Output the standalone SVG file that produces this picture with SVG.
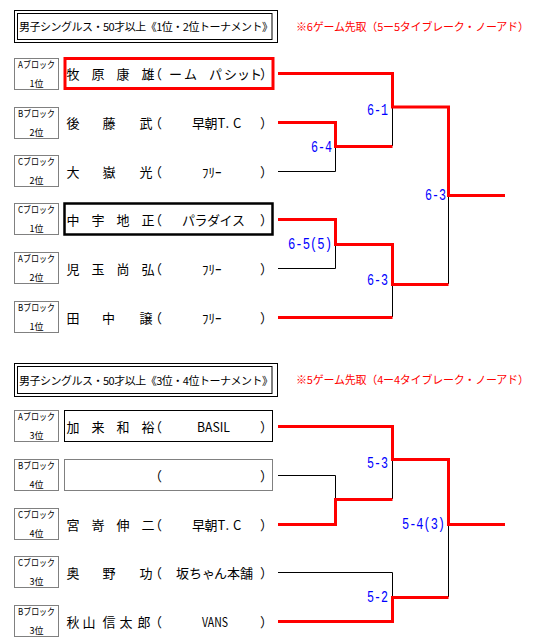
<svg xmlns="http://www.w3.org/2000/svg" width="545" height="644" viewBox="0 0 545 644">
<style>
text{font-family:"Noto Sans CJK JP","Noto Sans CJK SC",sans-serif;fill:#000}
.tb{fill:none;stroke:#000;stroke-width:1}
.lb{fill:none;stroke:#000;stroke-width:1;stroke-dasharray:1 1}
.lt{font-size:9px;text-anchor:middle}
.nm{font-size:13px}
.ttl{font-size:11px;letter-spacing:-0.5px}
.note{font-size:11px;letter-spacing:-0.2px;fill:#f00}
.sc{font-family:"Liberation Mono",monospace;font-size:16px;fill:#00f}
.red{fill:none;stroke:#f00;stroke-width:3}
.blk{fill:none;stroke:#000;stroke-width:1}
</style>
<rect width="545" height="644" fill="#fff"/>

<g id="title1">
<rect class="tb" x="14.5" y="10.5" width="263" height="32"/>
<rect class="tb" x="17.5" y="13.5" width="254.5" height="26"/>
<text class="ttl" x="19" y="31">男子シングルス・50才以上《1位・2位トーナメント》</text>
</g>
<text id="note1" class="note" x="296" y="31">※6ゲーム先取（5ー5タイブレーク・ノーアド）</text>

<g id="title2">
<rect class="tb" x="14.5" y="363.5" width="263" height="33"/>
<rect class="tb" x="17.5" y="366.5" width="254.5" height="27"/>
<text class="ttl" x="19" y="385">男子シングルス・50才以上《3位・4位トーナメント》</text>
</g>
<text id="note2" class="note" x="296" y="384">※5ゲーム先取（4ー4タイブレーク・ノーアド）</text>

<g id="connectors">
<path class="blk" d="M392.5,107 V146 M278,171.5 H335.5 V146 M278,268.5 H335.5 V244 M448.5,195 V284 M392.5,284 V317"/>
<path class="red" d="M278,73.5 H392.5 V107 H448.5 V195.5 H505"/>
<path class="red" d="M278,122.5 H335.5 V146.5 H392.5"/>
<path class="red" d="M278,219.5 H335.5 V244.5 H392.5 V284.5 H448.5"/>
<path class="red" d="M278,317.5 H392.5"/>
<path class="blk" d="M278,475.5 H335.5 V499 M392.5,459 V499 M278,572.5 H392.5 V597 M448.5,524 V597"/>
<path class="red" d="M278,426.5 H392.5 V459.5 H448.5 V524.5 H505"/>
<path class="red" d="M278,524.5 H335.5 V499.5 H392.5"/>
<path class="red" d="M278,621.5 H392.5 V597.5 H448.5"/>
</g>

<g id="scores">
<text class="sc" x="367" y="115" textLength="21" lengthAdjust="spacingAndGlyphs">6-1</text>
<text class="sc" x="311" y="152" textLength="21" lengthAdjust="spacingAndGlyphs">6-4</text>
<text class="sc" x="425" y="200" textLength="21" lengthAdjust="spacingAndGlyphs">6-3</text>
<text class="sc" x="288" y="249" textLength="44" lengthAdjust="spacingAndGlyphs">6-5(5)</text>
<text class="sc" x="367" y="285" textLength="21" lengthAdjust="spacingAndGlyphs">6-3</text>
<text class="sc" x="367" y="468" textLength="21" lengthAdjust="spacingAndGlyphs">5-3</text>
<text class="sc" x="402" y="529" textLength="43" lengthAdjust="spacingAndGlyphs">5-4(3)</text>
<text class="sc" x="367" y="602" textLength="21" lengthAdjust="spacingAndGlyphs">5-2</text>
</g>

<g id="p1">
<rect class="lb" x="14.5" y="58.5" width="44" height="31"/>
<text class="lt" x="36.5" y="68" textLength="37" lengthAdjust="spacingAndGlyphs">Aブロック</text>
<text class="lt" x="36.5" y="87">1位</text>
<rect x="65" y="58.5" width="208" height="30" fill="none" stroke="#f00" stroke-width="3"/>
<text class="nm" x="66.5 91.5 116.5 141.5 149 169 184 209 224 237 249 260" y="79">牧原康雄（ームパシット）</text>
</g>

<g id="p2">
<rect class="lb" x="14.5" y="107.5" width="44" height="31"/>
<text class="lt" x="36.5" y="117" textLength="37" lengthAdjust="spacingAndGlyphs">Bブロック</text>
<text class="lt" x="36.5" y="136">2位</text>
<text class="nm" x="66.5 102.5 139.5 149" y="128">後藤武（</text>
<text class="nm" x="192 204.5 217.5 225.5 233" y="128">早朝T.C</text>
<text class="nm" x="260" y="128">）</text>
</g>

<g id="p3">
<rect class="lb" x="14.5" y="155.5" width="44" height="31"/>
<text class="lt" x="36.5" y="165" textLength="37" lengthAdjust="spacingAndGlyphs">Cブロック</text>
<text class="lt" x="36.5" y="184">2位</text>
<text class="nm" x="66.5 102.5 139.5 149" y="177">大嶽光（</text>
<text class="nm" x="202" y="177">ﾌﾘｰ</text>
<text class="nm" x="260" y="177">）</text>
</g>

<g id="p4">
<rect class="lb" x="14.5" y="203.5" width="44" height="31"/>
<text class="lt" x="36.5" y="213" textLength="37" lengthAdjust="spacingAndGlyphs">Cブロック</text>
<text class="lt" x="36.5" y="232">1位</text>
<rect x="64.5" y="203.5" width="208" height="31" fill="none" stroke="#000" stroke-width="2.5"/>
<text class="nm" x="66.5 91.5 116.5 141.5 149 182 194.5 207 219.5 232 260" y="225">中宇地正（パラダイス）</text>
</g>

<g id="p5">
<rect class="lb" x="14.5" y="252.5" width="44" height="31"/>
<text class="lt" x="36.5" y="262" textLength="37" lengthAdjust="spacingAndGlyphs">Aブロック</text>
<text class="lt" x="36.5" y="281">2位</text>
<text class="nm" x="66.5 91.5 116.5 141.5 149" y="274">児玉尚弘（</text>
<text class="nm" x="202" y="274">ﾌﾘｰ</text>
<text class="nm" x="260" y="274">）</text>
</g>

<g id="p6">
<rect class="lb" x="14.5" y="301.5" width="44" height="31"/>
<text class="lt" x="36.5" y="311" textLength="37" lengthAdjust="spacingAndGlyphs">Bブロック</text>
<text class="lt" x="36.5" y="330">1位</text>
<text class="nm" x="66.5 102 139.5 149" y="323">田中譲（</text>
<text class="nm" x="202" y="323">ﾌﾘｰ</text>
<text class="nm" x="260" y="323">）</text>
</g>

<g id="p7">
<rect class="lb" x="14.5" y="410.5" width="44" height="31"/>
<text class="lt" x="36.5" y="420" textLength="37" lengthAdjust="spacingAndGlyphs">Aブロック</text>
<text class="lt" x="36.5" y="439">3位</text>
<rect class="tb" x="64.5" y="410.5" width="208" height="31"/>
<text class="nm" x="66.5 91.5 116.5 141.5 149" y="432">加来和裕（</text>
<text class="nm" x="197" y="432" textLength="33" lengthAdjust="spacingAndGlyphs">BASIL</text>
<text class="nm" x="260" y="432">）</text>
</g>

<g id="p8">
<rect class="lb" x="14.5" y="459.5" width="44" height="31"/>
<text class="lt" x="36.5" y="469" textLength="37" lengthAdjust="spacingAndGlyphs">Bブロック</text>
<text class="lt" x="36.5" y="488">4位</text>
<rect class="lb" x="64.5" y="459.5" width="208" height="31"/>
<text class="nm" x="149" y="481">（</text>
<text class="nm" x="260" y="481">）</text>
</g>

<g id="p9">
<rect class="lb" x="14.5" y="508.5" width="44" height="31"/>
<text class="lt" x="36.5" y="518" textLength="37" lengthAdjust="spacingAndGlyphs">Cブロック</text>
<text class="lt" x="36.5" y="537">4位</text>
<text class="nm" x="66.5 91.5 116.5 141.5 149" y="530">宮嵜伸二（</text>
<text class="nm" x="192 204.5 217.5 225.5 233" y="530">早朝T.C</text>
<text class="nm" x="260" y="530">）</text>
</g>

<g id="p10">
<rect class="lb" x="14.5" y="556.5" width="44" height="31"/>
<text class="lt" x="36.5" y="566" textLength="37" lengthAdjust="spacingAndGlyphs">Cブロック</text>
<text class="lt" x="36.5" y="585">3位</text>
<text class="nm" x="66.5 102.5 139.5 149 176 189 202 214 227 240 260" y="578">奥野功（坂ちゃん本舗）</text>
</g>

<g id="p11">
<rect class="lb" x="14.5" y="605.5" width="44" height="31"/>
<text class="lt" x="36.5" y="615" textLength="37" lengthAdjust="spacingAndGlyphs">Bブロック</text>
<text class="lt" x="36.5" y="634">3位</text>
<text class="nm" x="66.5 82.5 102.5 119.5 137.5 149" y="627">秋山信太郎（</text>
<text class="nm" x="202" y="627" textLength="26" lengthAdjust="spacingAndGlyphs">VANS</text>
<text class="nm" x="260" y="627">）</text>
</g>
</svg>
